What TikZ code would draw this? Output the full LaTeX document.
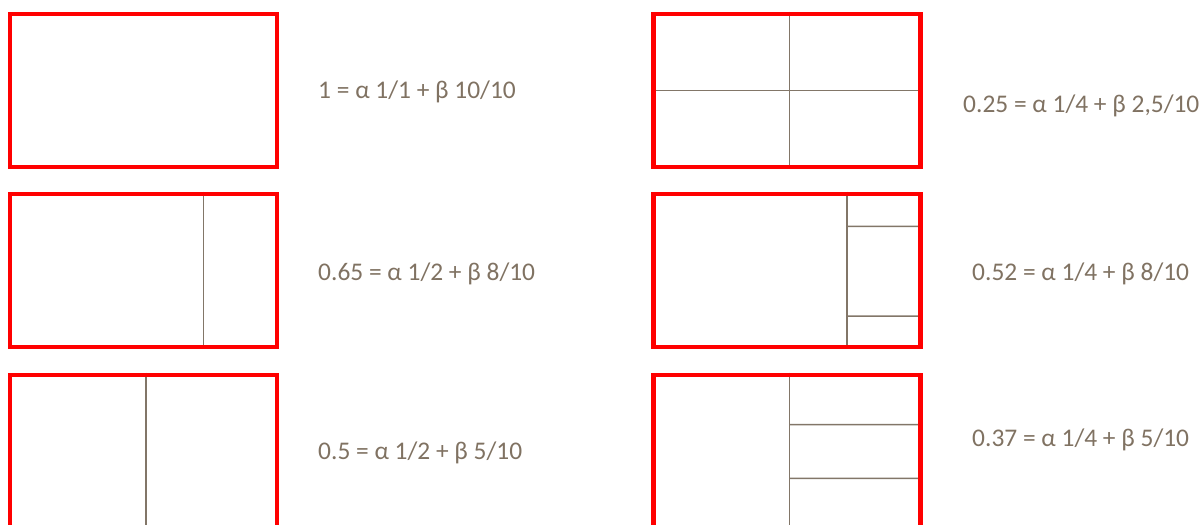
\documentclass[tikz,border=0pt]{standalone}
\usepackage{fontspec}
\setmainfont{Carlito}
\usetikzlibrary{calc,backgrounds}

\definecolor{framered}{RGB}{255,0,0}
\definecolor{splitgray}{RGB}{130,118,104}
\definecolor{labelbrown}{RGB}{128,114,98}

\begin{document}
\begin{tikzpicture}[x=0.03cm,y=-0.03cm,
  frame/.style={draw=framered,line width=0.14cm,rectangle,
    minimum width=8.01cm,minimum height=4.59cm,inner sep=0pt},
  split/.style={draw=splitgray,line width=0.045cm},
  score/.style={anchor=base west,inner sep=0pt,text=labelbrown,
    font=\fontsize{21.7pt}{26pt}\selectfont}]
\clip (0,0) rectangle (1201,524);

% left column
\node[frame] (full) at (143.5,90.5) {};
\node[frame] (half65) at (143.5,270.5) {};
\node[frame] (half50) at (143.5,451.5) {};

% right column
\node[frame] (quad) at (787,90.5) {};
\node[frame] (quart52) at (787,270.5) {};
\node[frame] (quart37) at (787,451.5) {};

\begin{scope}[on background layer]
\draw[split] ($(half65.north west)!0.72!(half65.north east)$) -- ($(half65.south west)!0.72!(half65.south east)$);
\draw[split] ($(half50.north west)!0.51!(half50.north east)$) -- ($(half50.south west)!0.51!(half50.south east)$);

\draw[split] ($(quad.north west)!0.51!(quad.north east)$) -- ($(quad.south west)!0.51!(quad.south east)$);
\draw[split] (quad.west) -- (quad.east);

\draw[split] ($(quart52.north west)!0.72!(quart52.north east)$) coordinate (q52top) -- ($(quart52.south west)!0.72!(quart52.south east)$) coordinate (q52bot);
\draw[split] ($(q52top)!0.22!(q52bot)$) -- ($(quart52.north east)!0.22!(quart52.south east)$);
\draw[split] ($(q52top)!0.79!(q52bot)$) -- ($(quart52.north east)!0.79!(quart52.south east)$);

\draw[split] ($(quart37.north west)!0.51!(quart37.north east)$) coordinate (q37top) -- ($(quart37.south west)!0.51!(quart37.south east)$) coordinate (q37bot);
\draw[split] ($(q37top)!0.33!(q37bot)$) -- ($(quart37.north east)!0.33!(quart37.south east)$);
\draw[split] ($(q37top)!0.67!(q37bot)$) -- ($(quart37.north east)!0.67!(quart37.south east)$);
\end{scope}

% labels
\node[score] (fulltext) at (318,98) {1 = α 1/1 + β 10/10};
\node[score] (half65text) at (318,280) {0.65 = α 1/2 + β 8/10};
\node[score] (half50text) at (318,459) {0.5 = α 1/2 + β 5/10};
\node[score] (quadtext) at (963,112) {0.25 = α 1/4 + β 2,5/10};
\node[score] (quart52text) at (972,280) {0.52 = α 1/4 + β 8/10};
\node[score] (quart37text) at (972,446) {0.37 = α 1/4 + β 5/10};
\end{tikzpicture}
\end{document}
